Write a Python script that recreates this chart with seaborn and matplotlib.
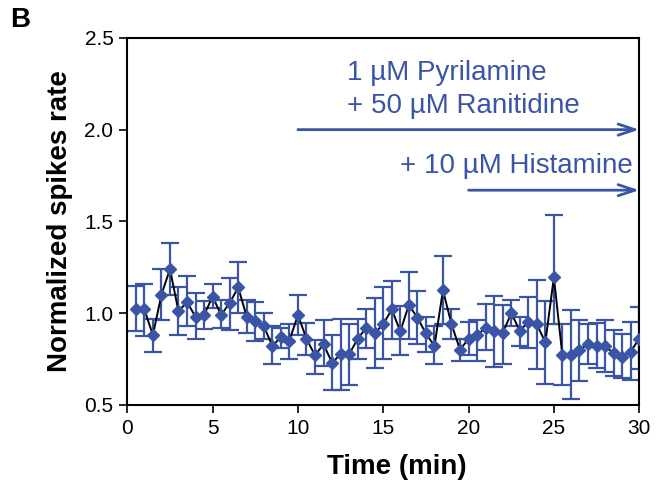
import numpy as np
import pandas as pd
import matplotlib
matplotlib.use("Agg")
import matplotlib.pyplot as plt
import seaborn as sns

# Time points (min) and normalized spike rate
time_min = [0.5, 1.0, 1.5, 2.0, 2.5, 3.0, 3.5, 4.0, 4.5, 5.0,
            5.5, 6.0, 6.5, 7.0, 7.5, 8.0, 8.5, 9.0, 9.5, 10.0,
            10.5, 11.0, 11.5, 12.0, 12.5, 13.0, 13.5, 14.0, 14.5, 15.0,
            15.5, 16.0, 16.5, 17.0, 17.5, 18.0, 18.5, 19.0, 19.5, 20.0,
            20.5, 21.0, 21.5, 22.0, 22.5, 23.0, 23.5, 24.0, 24.5, 25.0,
            25.5, 26.0, 26.5, 27.0, 27.5, 28.0, 28.5, 29.0, 29.5, 30.0]
rate_mean = [1.02, 1.02, 0.88, 1.10, 1.24, 1.01, 1.06, 0.98, 0.99, 1.09,
             0.99, 1.055, 1.14, 0.98, 0.955, 0.93, 0.82, 0.87, 0.85, 0.99,
             0.86, 0.77, 0.83, 0.73, 0.775, 0.775, 0.86, 0.92, 0.89, 0.94,
             1.02, 0.90, 1.045, 0.975, 0.89, 0.82, 1.125, 0.94, 0.80, 0.86,
             0.88, 0.92, 0.905, 0.89, 1.00, 0.905, 0.95, 0.94, 0.84, 1.195,
             0.77, 0.77, 0.80, 0.83, 0.82, 0.82, 0.78, 0.76, 0.79, 0.86]
err_upper = [1.15, 1.16, 0.97, 1.24, 1.38, 1.145, 1.20, 1.11, 1.067, 1.16,
             1.07, 1.19, 1.28, 1.07, 1.06, 1.00, 0.93, 0.92, 0.94, 1.10,
             0.945, 0.855, 0.96, 0.88, 0.97, 0.94, 0.97, 1.02, 1.085, 1.14,
             1.176, 1.04, 1.225, 1.12, 0.98, 0.93, 1.31, 1.02, 0.86, 0.95,
             0.96, 1.05, 1.094, 1.045, 1.07, 0.98, 1.087, 1.18, 1.067, 1.536,
             0.94, 1.018, 0.96, 0.94, 0.945, 0.96, 0.91, 0.885, 0.95, 1.036]
err_lower = [0.90, 0.875, 0.79, 0.96, 1.10, 0.88, 0.93, 0.86, 0.915, 1.03,
             0.92, 0.91, 1.00, 0.89, 0.85, 0.86, 0.72, 0.81, 0.75, 0.88,
             0.77, 0.67, 0.71, 0.58, 0.58, 0.61, 0.75, 0.81, 0.70, 0.75,
             0.86, 0.77, 0.86, 0.83, 0.79, 0.72, 0.94, 0.86, 0.74, 0.77,
             0.74, 0.80, 0.705, 0.72, 0.93, 0.82, 0.81, 0.695, 0.615, 0.94,
             0.61, 0.53, 0.63, 0.72, 0.70, 0.68, 0.655, 0.645, 0.635, 0.695]

x_ticks = [0, 5, 10, 15, 20, 25, 30]
y_ticks = [0.5, 1.0, 1.5, 2.0, 2.5]

df = pd.DataFrame({"time": time_min, "rate": rate_mean,
                   "hi": err_upper, "lo": err_lower})

blue = "#3a55a6"

sns.set_style("ticks")
plt.rcParams["font.family"] = ["Liberation Sans", "DejaVu Sans"]
plt.rcParams["text.color"] = "black"
plt.rcParams["axes.labelcolor"] = "black"
plt.rcParams["xtick.color"] = "black"
plt.rcParams["ytick.color"] = "black"

fig = plt.figure(figsize=(6.7, 4.86), dpi=100)
ax = fig.add_axes([0.19, 0.167, 0.764, 0.755])

# error bars
yerr = np.vstack([df["rate"] - df["lo"], df["hi"] - df["rate"]])
ax.errorbar(df["time"], df["rate"], yerr=yerr, fmt="none", ecolor=blue,
            elinewidth=1.6, capsize=6.5, capthick=1.6, zorder=2)

# black connecting line and blue diamonds
sns.lineplot(data=df, x="time", y="rate", color="black", linewidth=1.4,
             ax=ax, zorder=3)
ax.plot(df["time"], df["rate"], linestyle="none", marker="D", markersize=6.5,
        color=blue, markeredgecolor=blue, zorder=4)

ax.set_xlim(0, 30)
ax.set_ylim(0.5, 2.5)
ax.set_xticks(x_ticks)
ax.set_yticks(y_ticks)
ax.set_yticklabels([f"{v:.1f}" for v in y_ticks])
ax.tick_params(axis="both", labelsize=15, length=6, width=1.2,
               direction="out", colors="black", pad=4)
for s in ax.spines.values():
    s.set_visible(True)
    s.set_linewidth(1.5)
    s.set_color("black")

ax.set_xlabel("Time (min)", fontsize=20, fontweight="bold")
ax.xaxis.set_label_coords(0.527, -0.133, transform=ax.transAxes)
ax.xaxis.label.set_verticalalignment("top")
ax.set_ylabel("Normalized spikes rate", fontsize=20, fontweight="bold",
              labelpad=8)

# treatment annotations
ax.text(12.9, 2.27, "1 \u00b5M Pyrilamine", color=blue, fontsize=20,
        ha="left", va="baseline")
ax.text(12.9, 2.09, "+ 50 \u00b5M Ranitidine", color=blue, fontsize=20,
        ha="left", va="baseline")
ax.text(29.6, 1.765, "+ 10 \u00b5M Histamine", color=blue, fontsize=20,
        ha="right", va="baseline")
arrow_kw = dict(arrowstyle="->,head_length=1.2,head_width=0.4",
                color=blue, lw=2, shrinkA=0, shrinkB=0)
ax.annotate("", xy=(30, 2.0), xytext=(10, 2.0), arrowprops=arrow_kw,
            annotation_clip=False)
ax.annotate("", xy=(30, 1.67), xytext=(20, 1.67), arrowprops=arrow_kw,
            annotation_clip=False)

fig.text(0.015, 0.985, "B", fontsize=20, fontweight="bold", ha="left",
         va="top")

fig.savefig("out.png", dpi=100)
